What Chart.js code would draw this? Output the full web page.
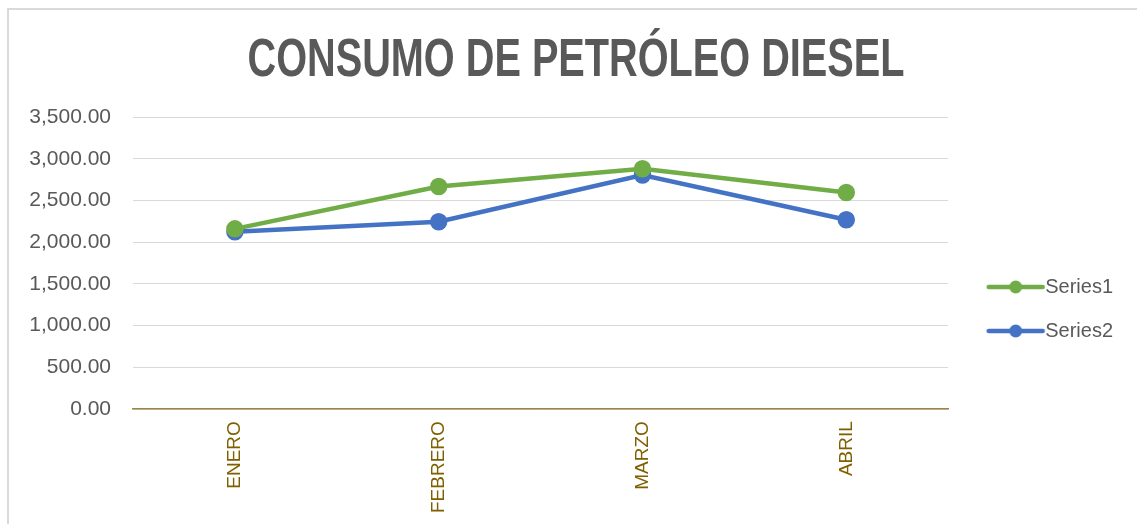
<!DOCTYPE html>
<html>
<head>
<meta charset="utf-8">
<script src="https://cdn.jsdelivr.net/npm/chart.js@4/dist/chart.umd.min.js"></script>
<style>
  html, body { margin: 0; padding: 0; background: #fff; overflow: hidden; }
  #frame {
    position: absolute; left: 7px; top: 8px; width: 1140px; height: 520px;
    border-left: 2px solid #d9d9d9; border-top: 2px solid #d9d9d9;
  }
  #wrap { position: absolute; left: 10px; top: 10px; width: 1127px; height: 515px; }
</style>
</head>
<body>
<div id="frame"></div>
<div id="wrap"><canvas id="consumo-diesel"></canvas></div>
<script>
const chartTitle = "CONSUMO DE PETRÓLEO DIESEL";
const months = ["ENERO", "FEBRERO", "MARZO", "ABRIL"];
const series1 = [2160, 2667, 2880, 2595];
const series2 = [2125, 2245, 2805, 2269];
const yTicks = [0, 500, 1000, 1500, 2000, 2500, 3000, 3500];

// legend marker: line with a dot in the middle, like the spreadsheet one
// (canvas is wider than the legend box so the line sits close to the text)
function legendMarker(color) {
  var c = document.createElement('canvas');
  c.width = 86; c.height = 16;
  var g = c.getContext('2d');
  g.strokeStyle = color;
  g.lineWidth = 4.5;
  g.lineCap = 'round';
  g.beginPath(); g.moveTo(28, 8); g.lineTo(82, 8); g.stroke();
  g.fillStyle = color;
  g.beginPath(); g.arc(55, 8, 6.5, 0, Math.PI * 2); g.fill();
  return c;
}

// narrow bold title (no condensed font installed, so squeeze it horizontally)
var narrowTitle = {
  id: 'narrowTitle',
  afterDraw: function(chart) {
    var c = chart.ctx;
    c.save();
    c.font = "bold 53px 'Liberation Sans', Arial, sans-serif";
    c.fillStyle = "#595959";
    c.textAlign = 'center';
    c.textBaseline = 'alphabetic';
    var w = c.measureText(chartTitle).width;
    c.translate(566, 66);
    c.scale(657 / w, 1);
    c.fillText(chartTitle, 0, 0);
    c.restore();
  }
};

var ctx = document.getElementById("consumo-diesel");
var myLineChart = new Chart(ctx, {
  type: 'line',
  data: {
    labels: months,
    datasets: [
      {
        label: "Series1",
        data: series1,
        borderColor: "#70AD47",
        backgroundColor: "#70AD47",
        borderWidth: 4.5,
        pointRadius: 6.5,
        pointHoverRadius: 6.5,
        tension: 0
      },
      {
        label: "Series2",
        data: series2,
        borderColor: "#4472C4",
        backgroundColor: "#4472C4",
        borderWidth: 4.5,
        pointRadius: 6.5,
        pointHoverRadius: 6.5,
        tension: 0
      }
    ]
  },
  plugins: [narrowTitle],
  options: {
    responsive: true,
    maintainAspectRatio: false,
    animation: false,
    layout: { padding: { left: 0, right: 14, top: 107, bottom: 0 } },
    plugins: {
      title: { display: false },
      legend: {
        position: 'right',
        align: 'start',
        title: { display: true, text: ' ', font: { size: 10 }, padding: { top: 0, bottom: 124 } },
        labels: {
          usePointStyle: true,
          pointStyleWidth: 63,
          padding: 24,
          color: "#595959",
          font: { family: "'Liberation Sans', Arial, sans-serif", size: 20 },
          generateLabels: function(chart) {
            return chart.data.datasets.map(function(ds, i) {
              return {
                text: ds.label,
                pointStyle: legendMarker(ds.borderColor),
                fillStyle: ds.borderColor,
                strokeStyle: ds.borderColor,
                lineWidth: 0,
                fontColor: "#595959",
                datasetIndex: i,
                hidden: false
              };
            });
          }
        }
      },
      tooltip: { enabled: false }
    },
    scales: {
      x: {
        offset: true,
        grid: { display: false, drawTicks: false },
        border: { display: true, color: "#9c8443", width: 1.5 },
        ticks: {
          color: "#7f6000",
          maxRotation: 90,
          minRotation: 90,
          padding: 12,
          font: { family: "'Liberation Sans', Arial, sans-serif", size: 19 }
        }
      },
      y: {
        min: 0,
        max: 3500,
        afterBuildTicks: function(scale) {
          scale.ticks = yTicks.map(function(v) { return { value: v }; });
        },
        afterFit: function(scale) { scale.width = 123; },
        grid: { color: "#d9d9d9", lineWidth: 1, drawTicks: false },
        border: { display: false },
        ticks: {
          color: "#595959",
          padding: 22,
          font: { family: "'Liberation Sans', Arial, sans-serif", size: 21 },
          callback: function(v) {
            return Number(v).toLocaleString('en-US', { minimumFractionDigits: 2, maximumFractionDigits: 2 });
          }
        }
      }
    }
  }
});
</script>
</body>
</html>
